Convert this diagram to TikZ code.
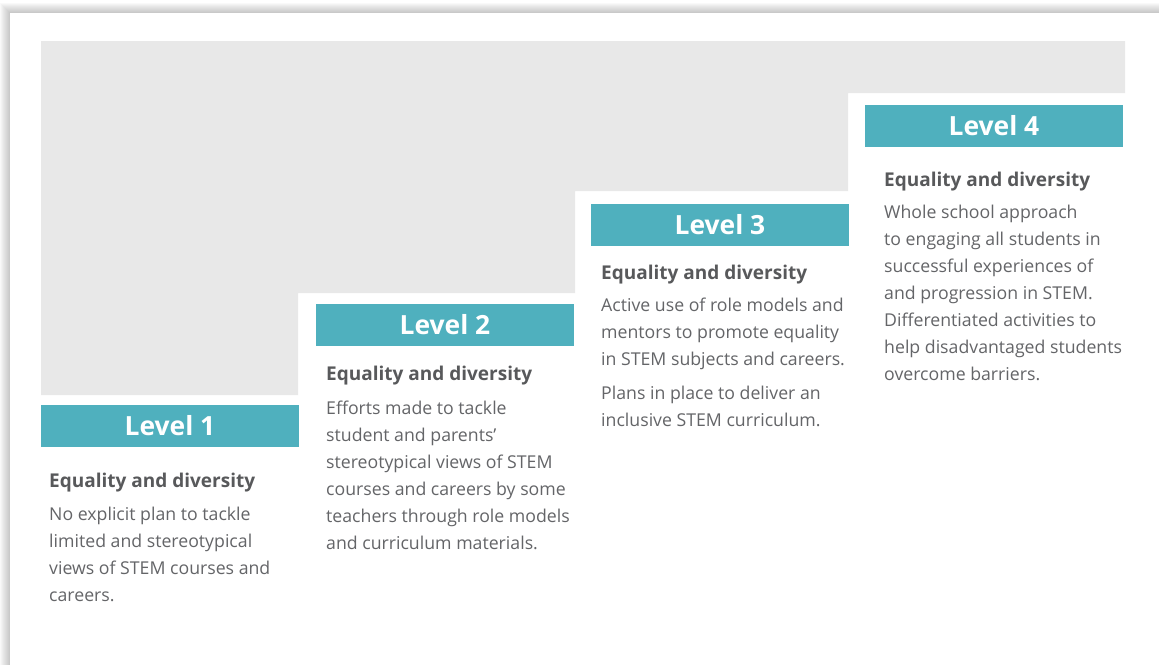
\documentclass[tikz,border=0pt]{standalone}
\usepackage{fontspec}
\setmainfont{Open Sans}
\usetikzlibrary{positioning}
\definecolor{stepgrey}{HTML}{E8E8E8}
\definecolor{levelteal}{HTML}{4FB0BE}
\definecolor{headgrey}{HTML}{58595B}
\definecolor{bodygrey}{HTML}{646568}

\begin{document}
\begin{tikzpicture}[x=1pt, y=-1pt,
  levelbar/.style={fill=levelteal, text=white, minimum width=258pt, minimum height=42pt, inner sep=0pt, font=\fontsize{26.4}{26.4}\selectfont\bfseries},
  headtxt/.style={text=headgrey, anchor=base west, inner sep=0pt, font=\fontsize{19}{19}\selectfont\bfseries},
  bodytxt/.style={text=bodygrey, anchor=north west, align=left, inner sep=0pt, font=\fontsize{17.7}{27}\selectfont}]
  \useasboundingbox (0,0) rectangle (1159,665);

  % card with soft shadow on the left and top
  \foreach \i in {1,...,10}
    \fill[black, opacity=0.022] (10-\i, 13-\i) rectangle (1159, 665);
  \fill[white] (10,13) rectangle (1159,665);

  % grey staircase
  \fill[stepgrey] (41,41) -- (1125,41) -- (1125,93) -- (848,93) -- (848,191) -- (575,191)
    -- (575,293) -- (298,293) -- (298,395) -- (41,395) -- cycle;

  % Level 1
  \node[levelbar] (lvl1) at (170,426) {Level 1};
  \node[headtxt] (head1) at (49,487) {Equality and diversity};
  \node[bodytxt] (body1) at (49,507) {No explicit plan to tackle\\ limited and stereotypical\\ views of STEM courses and\\ careers.};

  % Level 2
  \node[levelbar] (lvl2) at (445,325) {Level 2};
  \node[headtxt] (head2) at (326,380) {Equality and diversity};
  \node[bodytxt] (body2) at (326,401) {Efforts made to tackle\\ student and parents’\\ stereotypical views of STEM\\ courses and careers by some\\ teachers through role models\\ and curriculum materials.};

  % Level 3
  \node[levelbar] (lvl3) at (720,225) {Level 3};
  \node[headtxt] (head3) at (601,279) {Equality and diversity};
  \node[bodytxt] (body3) at (601,298) {Active use of role models and\\ mentors to promote equality\\ in STEM subjects and careers.\\[7pt] Plans in place to deliver an\\ inclusive STEM curriculum.};

  % Level 4
  \node[levelbar] (lvl4) at (994,126) {Level 4};
  \node[headtxt] (head4) at (884,186) {Equality and diversity};
  \node[bodytxt] (body4) at (884,205) {Whole school approach\\ to engaging all students in\\ successful experiences of\\ and progression in STEM.\\ Differentiated activities to\\ help disadvantaged students\\ overcome barriers.};
\end{tikzpicture}
\end{document}
